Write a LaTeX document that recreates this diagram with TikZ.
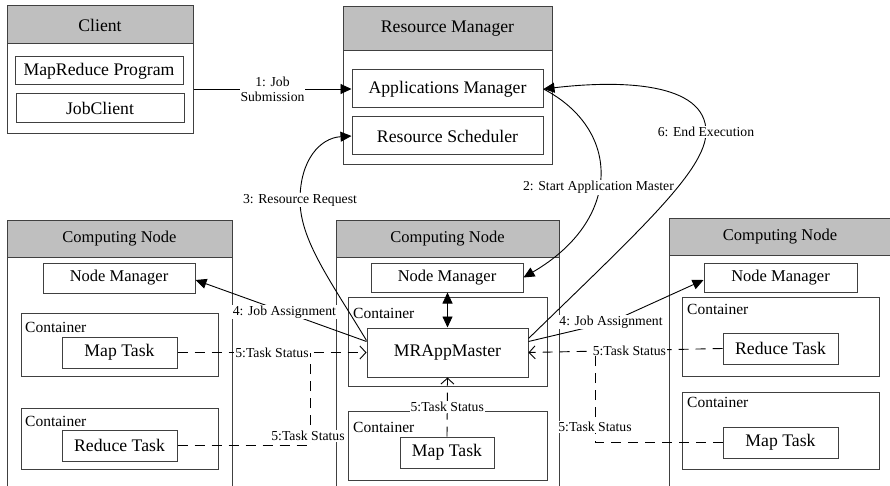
\documentclass[tikz,border=0pt]{standalone}
\usepackage{fontspec}
\setmainfont{Liberation Serif}
\usetikzlibrary{arrows.meta}
\begin{document}
\begin{tikzpicture}[x=1pt,y=-1pt,
  frame/.style={draw=black!75, line width=1pt, inner sep=0pt, rectangle},
  bigtxt/.style={font=\fontsize{17.7pt}{20pt}\selectfont},
  midtxt/.style={font=\fontsize{16.5pt}{19pt}\selectfont},
  hdr/.style={frame, fill=black!25},
  ctxt/.style={anchor=west, inner sep=0pt, font=\fontsize{15.5pt}{18pt}\selectfont},
  lbl/.style={fill=white, inner sep=1pt, font=\fontsize{13.7pt}{15pt}\selectfont, align=center},
  conn/.style={draw=black, line width=0.9pt},
  tri/.tip={Triangle[length=11pt,width=10pt]},
  dconn/.style={conn, dash pattern=on 10pt off 7pt},
  barb/.tip={Straight Barb[length=6pt,width=13pt,line width=0.9pt]}
]
\useasboundingbox (0,0) rectangle (890,486);
\clip (0,0) rectangle (890,486);

% Client
\node[frame, minimum width=186pt, minimum height=128pt] (client) at (100,70) {};
\node[hdr, bigtxt, minimum width=186pt, minimum height=38pt] (clienth) at (100,25) {Client};
\node[frame, bigtxt, minimum width=168pt, minimum height=28pt] (mrp) at (99,71) {MapReduce Program};
\node[frame, bigtxt, minimum width=168pt, minimum height=29pt] (jc) at (100,108.5) {JobClient};

% Resource Manager
\node[frame, minimum width=209pt, minimum height=158pt] (rm) at (447.5,86) {};
\node[hdr, bigtxt, minimum width=209pt, minimum height=44pt] (rmh) at (447.5,29) {Resource Manager};
\node[frame, bigtxt, minimum width=191pt, minimum height=38pt] (am) at (447.5,89) {Applications Manager};
\node[frame, bigtxt, minimum width=191pt, minimum height=38pt] (rs) at (447.5,136) {Resource Scheduler};

% Left computing node
\node[frame, minimum width=225pt, minimum height=276pt] (cnL) at (119.5,358) {};
\node[hdr, midtxt, minimum width=225pt, minimum height=37pt] (cnLh) at (119.5,238.5) {Computing Node};
\node[frame, midtxt, minimum width=152pt, minimum height=30pt] (nmL) at (119,278) {Node Manager};
\node[frame, minimum width=197pt, minimum height=63pt] (cL1) at (119.5,344.5) {};
\node[ctxt] (cL1t) at (25,327) {Container};
\node[frame, bigtxt, minimum width=115pt, minimum height=31pt] (mtL) at (119.5,352.5) {Map Task};
\node[frame, minimum width=197pt, minimum height=61pt] (cL2) at (119.5,438.5) {};
\node[ctxt] (cL2t) at (25,421) {Container};
\node[frame, bigtxt, minimum width=115pt, minimum height=31pt] (rtL) at (119.5,445.5) {Reduce Task};

% Middle computing node
\node[frame, minimum width=223pt, minimum height=276pt] (cnM) at (447.5,358) {};
\node[hdr, midtxt, minimum width=223pt, minimum height=37pt] (cnMh) at (447.5,238.5) {Computing Node};
\node[frame, midtxt, minimum width=152pt, minimum height=29pt] (nmM) at (447,277.5) {Node Manager};
\node[frame, minimum width=199pt, minimum height=89pt] (cM1) at (447.5,341.5) {};
\node[ctxt] (cM1t) at (353,313) {Container};
\node[frame, bigtxt, minimum width=161pt, minimum height=49pt] (mr) at (447.5,352.5) {MRAppMaster};
\node[frame, minimum width=199pt, minimum height=69pt] (cM2) at (447.5,445.5) {};
\node[ctxt] (cM2t) at (353,427) {Container};
\node[frame, bigtxt, minimum width=94pt, minimum height=31pt] (mtM) at (447,452.5) {Map Task};

% Right computing node
\node[frame, minimum width=222pt, minimum height=278pt] (cnR) at (780,357) {};
\node[hdr, midtxt, minimum width=222pt, minimum height=37pt] (cnRh) at (780,236.5) {Computing Node};
\node[frame, midtxt, minimum width=153pt, minimum height=29pt] (nmR) at (780.5,277.5) {Node Manager};
\node[frame, minimum width=197pt, minimum height=79pt] (cR1) at (780.5,336.5) {};
\node[ctxt] (cR1t) at (687,309) {Container};
\node[frame, bigtxt, minimum width=115pt, minimum height=31pt] (rtR) at (780.5,348.5) {Reduce Task};
\node[frame, minimum width=197pt, minimum height=77pt] (cR2) at (780.5,430.5) {};
\node[ctxt] (cR2t) at (687,402) {Container};
\node[frame, bigtxt, minimum width=115pt, minimum height=31pt] (mtR) at (780.5,442.5) {Map Task};

% coordinates
\coordinate (jL) at (310,352.5);
\coordinate (jR) at (595,352);

% 1: Job Submission
\draw[conn,-tri] (client.east |- am.west) -- node[lbl]{1: Job\\Submission} (am.west);

% 2: Start Application Master
\draw[conn,-tri] (am.east) .. controls (622,130) and (622,220) .. node[lbl,pos=0.55]{2: Start Application Master} (nmM.east);

% 6: End Execution
\draw[conn,-tri] ([yshift=14pt]mr.east) .. controls (640,230) and (706,170) .. (706,132) node[lbl]{6: End Execution}
  .. controls (706,82) and (620,80) .. (am.east);

% 3: Resource Request
\draw[conn,-tri] ([yshift=12pt]mr.west) .. controls (330,280) and (300,240) .. (300,200) node[lbl]{3: Resource Request}
  .. controls (300,160) and (320,138) .. (rs.west);

% 4: Job Assignment (left / right)
\draw[conn,-tri] ([yshift=11pt]mr.west) -- node[lbl,pos=0.48]{4: Job Assignment} ([yshift=-2pt]nmL.east);
\draw[conn,-tri] ([yshift=11pt]mr.east) -- (611,322) node[lbl]{4: Job Assignment} -- ([yshift=-2.5pt]nmR.west);

% Node Manager <-> MRAppMaster
\draw[conn,tri-tri] (mr.north) -- (mr.north |- nmM.south);

% 5: Task Status
\draw[dconn,-barb] (mtL.east) -- node[lbl]{5:Task Status} (mr.west);
\draw[dconn] (rtL.east) -| node[lbl,pos=0.5,yshift=9.5pt,xshift=-2pt]{5:Task Status} (jL);
\draw[dconn,-barb] (rtR.west) -- node[lbl,pos=0.48]{5:Task Status} (mr.east);
\draw[dconn] (mtR.west) -| node[lbl,pos=0.5,yshift=15.5pt]{5:Task Status} (jR);
\draw[dconn,-barb] (mtM.north) -- node[lbl]{5:Task Status} (mr.south);
\end{tikzpicture}
\end{document}
